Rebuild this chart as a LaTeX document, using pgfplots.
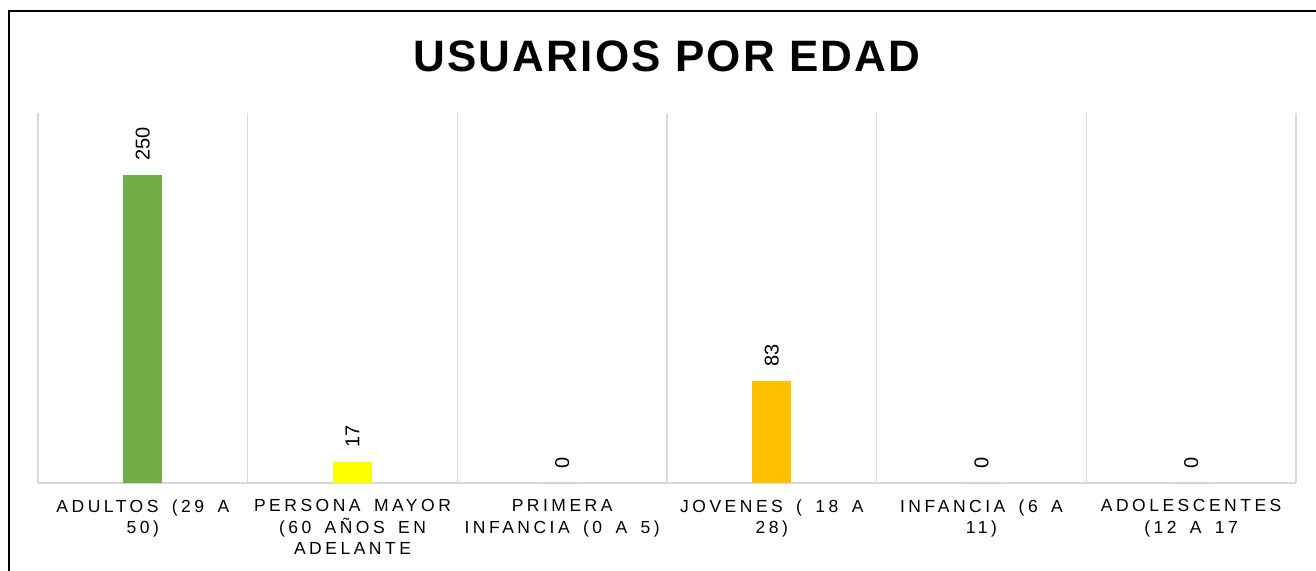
\documentclass[border=0pt]{standalone}
\usepackage{fontspec}
\setmainfont{Liberation Sans}
\usepackage{pgfplots}
\pgfplotsset{compat=1.18}
\newfontfamily\spaced[LetterSpace=20,WordSpace=1.6]{Liberation Sans}
\newfontfamily\titlespaced[LetterSpace=5]{Liberation Sans}
\definecolor{cgreen}{HTML}{70AD47}
\definecolor{cyellow}{HTML}{FFFF00}
\definecolor{corange}{HTML}{FFC000}
\definecolor{gridgray}{HTML}{D9D9D9}
\begin{document}
\begin{tikzpicture}[x=1pt,y=1pt]
\useasboundingbox (0,0) rectangle (1316,570);
\clip (0,0) rectangle (1316,570);
\draw[line width=2pt] (9,-20) -- (9,559) -- (1340,559);
\node[font=\titlespaced\bfseries\fontsize{44}{50}\selectfont] at (667,514) {USUARIOS POR EDAD};
\begin{axis}[
  at={(38pt,87pt)}, anchor=south west,
  scale only axis, width=1258pt, height=370pt,
  xmin=-0.5, xmax=5.5, ymin=0, ymax=300,
  axis y line=none,
  axis x line*=bottom,
  x axis line style={draw=gridgray, line width=1.5pt, -},
  ytick=\empty,
  xtick={0,1,2,3,4,5},
  xticklabels={{ADULTOS (29 A\\50)},{PERSONA MAYOR\\(60 AÑOS EN\\ADELANTE},{PRIMERA\\INFANCIA (0 A 5)},{JOVENES ( 18 A\\28)},{INFANCIA (6 A\\11)},{ADOLESCENTES\\(12 A 17}},
  xticklabel style={align=center, font=\spaced\fontsize{17.5}{21.5}\selectfont, anchor=north, yshift=-13pt},
  major tick length=0pt,
  minor xtick={-0.5,0.5,1.5,2.5,3.5,4.5,5.5},
  minor tick length=0pt,
  xminorgrids,
  minor grid style={draw=gridgray, line width=1.5pt},
  ybar, bar width=39pt,
  nodes near coords,
  /pgf/number format/assume math mode=true,
  every node near coord/.style={rotate=90, anchor=west, inner xsep=14pt, font=\fontsize{20}{24}\selectfont, text=black},
  clip=false,
]
\addplot[fill=cgreen, draw=none, bar shift=0pt] coordinates {(0,250)};
\addplot[fill=cyellow, draw=none, bar shift=0pt] coordinates {(1,17)};
\addplot[fill=cgreen, draw=none, bar shift=0pt] coordinates {(2,0)};
\addplot[fill=corange, draw=none, bar shift=0pt] coordinates {(3,83)};
\addplot[fill=cgreen, draw=none, bar shift=0pt] coordinates {(4,0)};
\addplot[fill=cgreen, draw=none, bar shift=0pt] coordinates {(5,0)};
\end{axis}
\end{tikzpicture}
\end{document}
